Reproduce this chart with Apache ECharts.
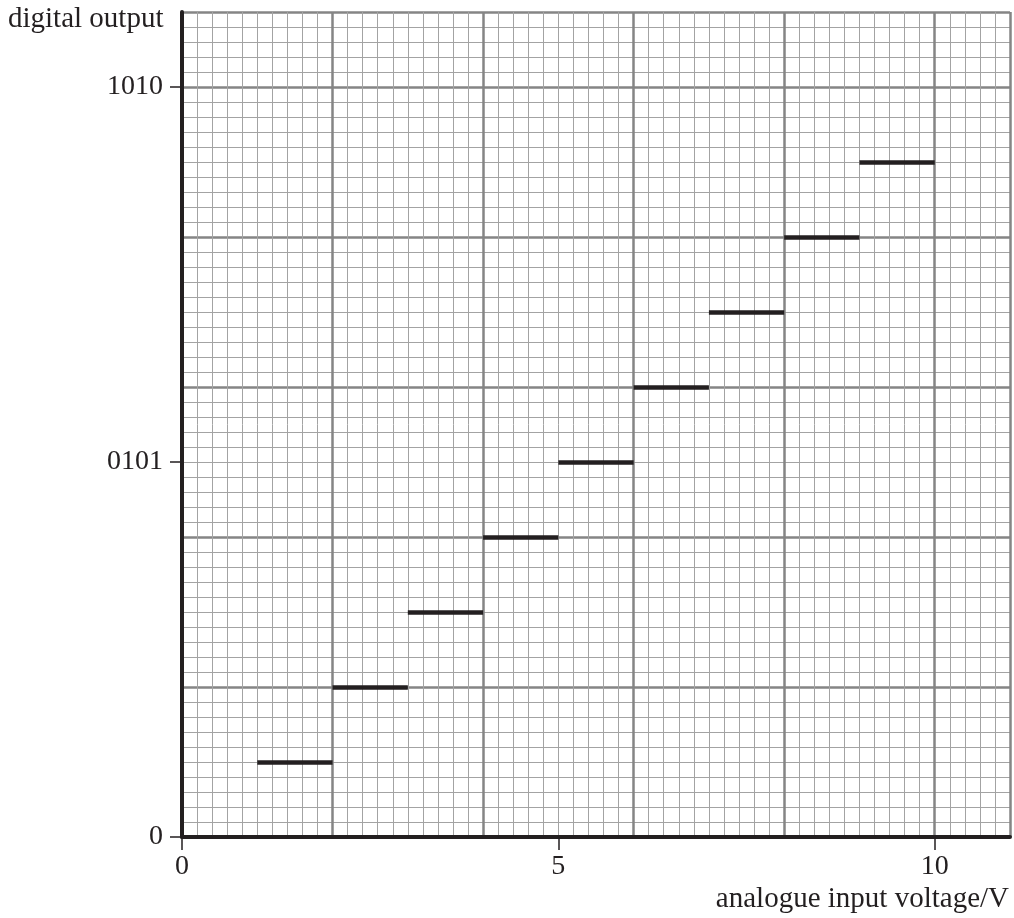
<!DOCTYPE html>
<html lang="en" style="height: 100%">
<head>
    <meta charset="UTF-8">
    <title>digital output vs analogue input voltage</title>
    <script src="https://cdn.jsdelivr.net/npm/echarts@6/dist/echarts.min.js"></script>
</head>
<body style="height: 100%; margin: 0">
<div id="main" style="width: 1014px; height: 918px"></div>
<script>
    // step levels: voltage from-to and output level
    var stepStart = [1, 2, 3, 4, 5, 6, 7, 8, 9];
    var stepEnd   = [2, 3, 4, 5, 6, 7, 8, 9, 10];
    var stepLevel = [1, 2, 3, 4, 5, 6, 7, 8, 9];

    var xTicks = [0, 5, 10];
    var yTicks = [0, 5, 10];
    var yTickLabels = ['0', '0101', '1010'];

    var ink = '#231f20';
    var font = '"Liberation Serif", "DejaVu Serif", serif';

    var segs = [];
    for (var i = 0; i < stepLevel.length; i++) {
        segs.push({coords: [[stepStart[i], stepLevel[i]], [stepEnd[i], stepLevel[i]]]});
    }

    function gridAxis(step, color, width, pos) {
        return {
            type: 'value', min: 0, max: 11, interval: step, position: pos, offset: 0,
            axisLine: {show: false}, axisTick: {show: false}, axisLabel: {show: false},
            splitLine: {show: true, lineStyle: {color: color, width: width}}
        };
    }

    var myoption = {
        animation: false,
        backgroundColor: '#fff',
        grid: {left: 182, right: 4, top: 12, bottom: 81, containLabel: false, outerBoundsMode: 'none'},
        xAxis: [
            gridAxis(0.2, '#a3a3a3', 1, 'bottom'),
            gridAxis(2, '#858585', 2.5, 'bottom'),
            {
                type: 'value', min: 0, max: 11, interval: 5, position: 'bottom', offset: 0,
                splitLine: {show: false},
                axisLine: {show: true, lineStyle: {color: ink, width: 4}},
                axisTick: {show: true, customValues: xTicks, length: 13, lineStyle: {color: ink, width: 1.5}},
                axisLabel: {customValues: xTicks, margin: 16, color: ink, fontSize: 28, fontFamily: font}
            }
        ],
        yAxis: [
            gridAxis(0.2, '#a3a3a3', 1, 'left'),
            gridAxis(2, '#858585', 2.5, 'left'),
            {
                type: 'value', min: 0, max: 11, interval: 5, position: 'left', offset: 0,
                splitLine: {show: false},
                axisLine: {show: true, lineStyle: {color: ink, width: 4}},
                axisTick: {show: true, customValues: yTicks, length: 12, lineStyle: {color: ink, width: 1.5}},
                axisLabel: {
                    customValues: yTicks, margin: 19, color: ink, fontSize: 28, fontFamily: font,
                    formatter: function (v) { return yTickLabels[yTicks.indexOf(v)]; }
                }
            }
        ],
        graphic: [
            {type: 'text', left: 8, top: 5, style: {text: 'digital output', fill: ink, font: '29px ' + font}},
            {type: 'text', right: 5, top: 885, style: {text: 'analogue input voltage/V', fill: ink, font: '29px ' + font}}
        ],
        series: [
            {
                type: 'lines', coordinateSystem: 'cartesian2d', xAxisIndex: 0, yAxisIndex: 0,
                polyline: false, silent: true,
                lineStyle: {color: ink, width: 4.5, opacity: 1, cap: 'butt'},
                data: segs
            }
        ]
    };
    var myChart = echarts.init(document.getElementById('main'));
    myChart.setOption(myoption);
</script>
</body>
</html>
